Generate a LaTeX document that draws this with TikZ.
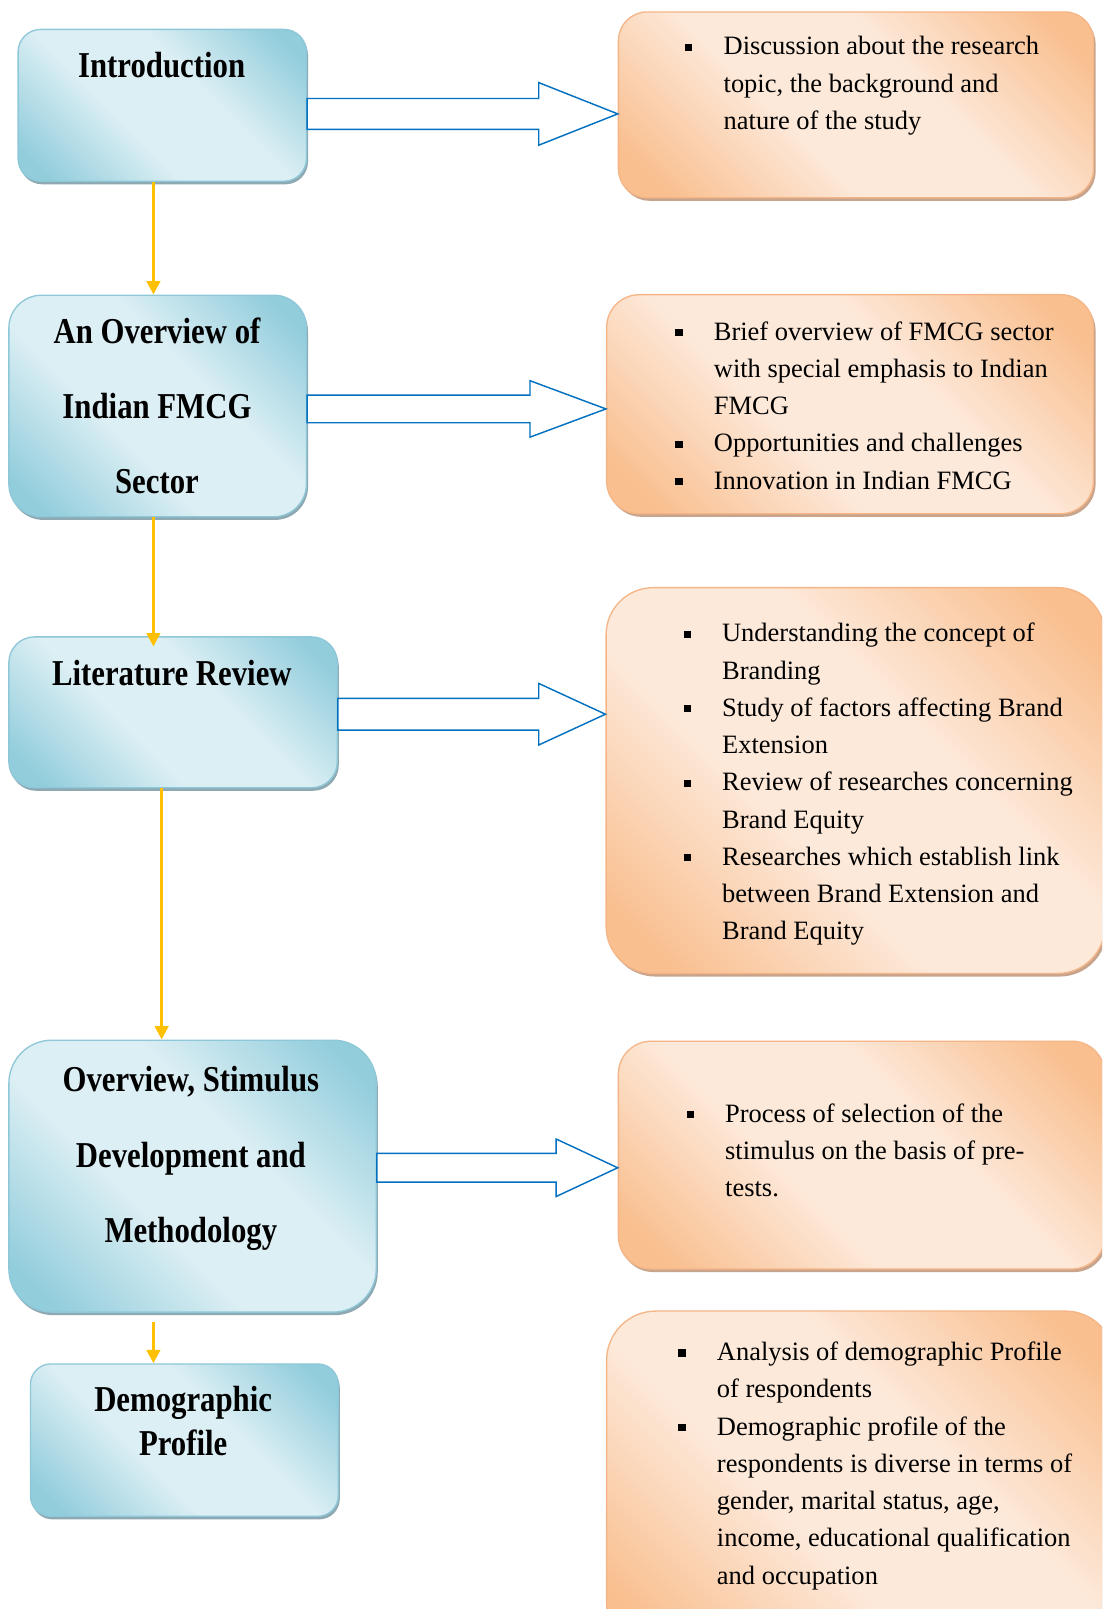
\documentclass[tikz,border=0pt]{standalone}
\usepackage{fontspec}
\setmainfont{Liberation Serif}
\newfontfamily\labelfont{Liberation Serif}[FakeStretch=0.845]
\usetikzlibrary{arrows.meta,calc,shadows}

\definecolor{bdark}{HTML}{92CDDC}
\definecolor{blight}{HTML}{DCEFF4}
\definecolor{bborder}{HTML}{8EC8D8}
\definecolor{bshadow}{HTML}{8FA9B3}
\definecolor{odark}{HTML}{F9BF8F}
\definecolor{olight}{HTML}{FDE9DA}
\definecolor{oborder}{HTML}{F5B587}
\definecolor{oshadow}{HTML}{C7A48B}
\definecolor{flowarrow}{HTML}{FFC000}
\definecolor{linkblue}{HTML}{0070C0}

% diagonal bands: dark corners, light diagonal
\pgfdeclarehorizontalshading{blueband}{100bp}{color(0bp)=(bdark); color(20bp)=(bdark); color(41bp)=(blight); color(59bp)=(blight); color(80bp)=(bdark); color(100bp)=(bdark)}
\pgfdeclarehorizontalshading{orangeband}{100bp}{color(0bp)=(odark); color(20bp)=(odark); color(41bp)=(olight); color(59bp)=(olight); color(80bp)=(odark); color(100bp)=(odark)}

% bold chapter titles
\newcommand{\boxlabel}[2]{\parbox[t]{380pt}{\centering\labelfont\bfseries\fontsize{35.5}{#1}\selectfont #2}}
% bulleted descriptions
\newcommand{\bul}{\makebox[37.5pt][l]{\raisebox{4pt}{\rule{7pt}{7pt}}}}
\newcommand{\ind}{\hspace*{37.5pt}}
\newcommand{\points}[1]{\parbox[t]{440pt}{\raggedright\fontsize{25.8}{36.3}\selectfont #1}}

% hollow block arrow: source, target, y, half shaft, head length, half head
\newcommand{\blockarrow}[6]{%
  \draw[blockarrow]
    ($(#1.east |- 0,#3)+(0,-#4)$) -- ($(#2.west |- 0,#3)+(-#5,-#4)$)
    -- ($(#2.west |- 0,#3)+(-#5,-#6)$) -- (#2.west |- 0,#3)
    -- ($(#2.west |- 0,#3)+(-#5,#6)$) -- ($(#2.west |- 0,#3)+(-#5,#4)$)
    -- ($(#1.east |- 0,#3)+(0,#4)$) -- cycle;}

\tikzset{
  topic/.style={shade, shading=blueband, shading angle=45, draw=bborder,
    line width=1.3pt, rounded corners=#1, inner sep=0pt, anchor=north west,
    drop shadow={shadow xshift=1.5pt, shadow yshift=-3pt, opacity=1, fill=bshadow}},
  detail/.style={shade, shading=orangeband, shading angle=45, draw=oborder,
    line width=1.3pt, rounded corners=#1, inner sep=0pt, anchor=north west,
    drop shadow={shadow xshift=2pt, shadow yshift=-3pt, opacity=1, fill=oshadow}},
  title/.style={inner sep=0pt, anchor=base},
  bullets/.style={inner sep=0pt, anchor=base west},
  flow/.style={draw=flowarrow, line width=3pt, -{Triangle[length=13pt,width=13pt]}},
  blockarrow/.style={draw=linkblue, line width=1.4pt, fill=white, line join=miter}
}

\begin{document}
\begin{tikzpicture}[x=1pt,y=-1pt]
\useasboundingbox (0,0) rectangle (1074,1568);
\clip (0,0) rectangle (1074,1568);
\fill[white] (0,0) rectangle (1074,1568);

% chapter boxes
\node[topic=22, minimum width=281pt, minimum height=148pt] (intro) at (17,28) {};
\node[topic=32, minimum width=290pt, minimum height=216pt] (ov) at (8,287) {};
\node[topic=25, minimum width=320pt, minimum height=147pt] (lit) at (8,620) {};
\node[topic=42, minimum width=358pt, minimum height=265pt] (stim) at (8,1013) {};
\node[topic=20, minimum width=300pt, minimum height=148.5pt] (demo) at (29,1328.5) {};

\node[title] (intro-l) at (157.5,75.4) {\boxlabel{40}{Introduction}};
\node[title] (ov-l) at (153,334.6) {\boxlabel{73}{An Overview of\\Indian FMCG\\Sector}};
\node[title] (lit-l) at (167.5,668) {\boxlabel{40}{Literature Review}};
\node[title] (stim-l) at (186,1064) {\boxlabel{73.3}{Overview, Stimulus\\Development and\\Methodology}};
\node[title] (demo-l) at (178.5,1376) {\boxlabel{42}{Demographic\\Profile}};

% description boxes
\node[detail=28, minimum width=463pt, minimum height=181pt] (d1) at (602,11) {};
\node[detail=32, minimum width=474.5pt, minimum height=213.5pt] (d2) at (590.5,286.5) {};
\node[detail=46, minimum width=486pt, minimum height=376pt] (d3) at (590,572) {};
\node[detail=32, minimum width=474pt, minimum height=222pt] (d4) at (602,1014) {};
\node[detail=48, minimum width=495pt, minimum height=333pt] (d5) at (590.5,1277) {};

\node[bullets] (d1-t) at (667.5,53.6) {\points{\bul Discussion about the research\\
  \ind topic, the background and\\
  \ind nature of the study}};
\node[bullets] (d2-t) at (658,331.5) {\points{\bul Brief overview of FMCG sector\\
  \ind with special emphasis to Indian\\
  \ind FMCG\\
  \bul Opportunities and challenges\\
  \bul Innovation in Indian FMCG}};
\node[bullets] (d3-t) at (666,625.5) {\points{\bul Understanding the concept of\\
  \ind Branding\\
  \bul Study of factors affecting Brand\\
  \ind Extension\\
  \bul Review of researches concerning\\
  \ind Brand Equity\\
  \bul Researches which establish link\\
  \ind between Brand Extension and\\
  \ind Brand Equity}};
\node[bullets] (d4-t) at (669,1093.5) {\points{\bul Process of selection of the\\
  \ind stimulus on the basis of pre-\\
  \ind tests.}};
\node[bullets] (d5-t) at (661,1326) {\points{\bul Analysis of demographic Profile\\
  \ind of respondents\\
  \bul Demographic profile of the\\
  \ind respondents is diverse in terms of\\
  \ind gender, marital status, age,\\
  \ind income, educational qualification\\
  \ind and occupation}};

% chapter sequence
\draw[flow] (149.5,0 |- intro.south) -- (149.5,0 |- ov.north);
\draw[flow, shorten >=-10pt] (149.5,0 |- ov.south) -- (149.5,0 |- lit.north);
\draw[flow] (157.5,0 |- lit.south) -- (157.5,0 |- stim.north);
\draw[flow, shorten <=9pt] (149.5,0 |- stim.south) -- (149.5,0 |- demo.north);

% chapter to content
\blockarrow{intro}{d1}{111}{15}{77}{30.5}
\blockarrow{ov}{d2}{398.5}{13.5}{74}{27.5}
\blockarrow{lit}{d3}{696}{15.5}{65}{30}
\blockarrow{stim}{d4}{1138}{14}{60}{28}
\end{tikzpicture}
\end{document}
